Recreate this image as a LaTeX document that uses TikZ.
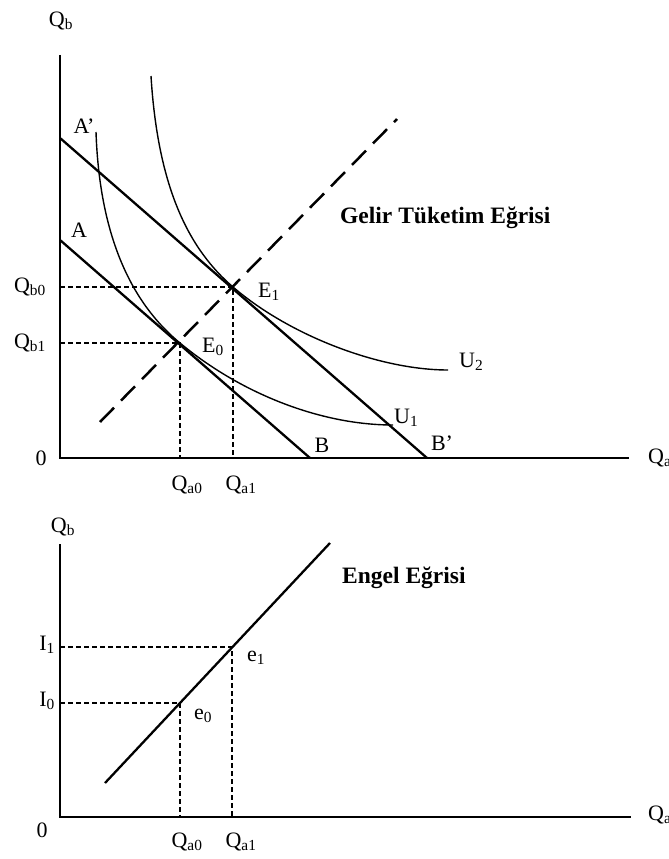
\documentclass[tikz,border=0pt]{standalone}
\usepackage{fontspec}
\setmainfont{Liberation Serif}
\usetikzlibrary{positioning}
\tikzset{
    axisline/.style={line width=2.8pt, line join=miter},
    budgetline/.style={line width=2.3pt},
    utilcurve/.style={line width=1.4pt},
    guideline/.style={line width=1.2pt, dash pattern=on 5pt off 3pt},
    pathline/.style={line width=2.5pt, dash pattern=on 20pt off 10pt},
    axlabel/.style={font=\fontsize{22}{24}\selectfont, inner sep=1pt},
    curvelabel/.style={font=\bfseries\fontsize{23.5}{26}\selectfont, inner sep=0pt}
}
\newcommand{\subl}[2]{#1\textsubscript{#2}}

\begin{document}
\begin{tikzpicture}[x=1pt, y=-1pt]
        \useasboundingbox (0,0) rectangle (669,859);

        % upper panel: budget lines and indifference curves
        \coordinate (o1) at (60,458);
        \coordinate (ytop1) at (60,55);
        \coordinate (xend1) at (629,458);
        \coordinate (a) at (60,240);
        \coordinate (b) at (310,458);
        \coordinate (ap) at (60,138);
        \coordinate (bp) at (427,458);
        \coordinate (e0) at (180,343);
        \coordinate (e1) at (233,287);
        \coordinate (gte0) at (100,422);
        \coordinate (gte1) at (397,119);
        \coordinate (u1s) at (96,132);
        \coordinate (u1e) at (393,425);
        \coordinate (u2s) at (151,76);
        \coordinate (u2e) at (448,370);

        \draw[axisline] (ytop1) -- (o1) -- (xend1);
        \draw[guideline] (o1 |- e1) -- (e1) -- (e1 |- o1);
        \draw[guideline] (o1 |- e0) -- (e0) -- (e0 |- o1);
        \draw[budgetline] (a) -- (b);
        \draw[budgetline] (ap) -- (bp);
        \draw[pathline] (gte0) -- (gte1);
        \draw[utilcurve] (u1s) .. controls (100,250) and (140,310) .. (e0)
            .. controls (240,393) and (320,425) .. (u1e);
        \draw[utilcurve] (u2s) .. controls (158,190) and (190,250) .. (e1)
            .. controls (290,336) and (380,370) .. (u2e);

        \node[axlabel] (qb) at (61,21) {\subl{Q}{b}};
        \node[axlabel, anchor=east] (qb0) at (47,287) {\subl{Q}{b0}};
        \node[axlabel, anchor=east] (qb1) at (47,343) {\subl{Q}{b1}};
        \node[axlabel] (zero1) at (41,458) {0};
        \node[axlabel, anchor=west] (qa) at (647,458) {\subl{Q}{a}};
        \node[axlabel] (qa0) at (187,485) {\subl{Q}{a0}};
        \node[axlabel] (qa1) at (241,485) {\subl{Q}{a1}};
        \node[axlabel] (la) at (79,230) {A};
        \node[axlabel] (lap) at (84,126) {A'};
        \node[axlabel] (lb) at (322,445) {B};
        \node[axlabel] (lbp) at (442,443) {B'};
        \node[axlabel, anchor=west] (le0) at (201,347) {\subl{E}{0}};
        \node[axlabel, anchor=west] (le1) at (257,292) {\subl{E}{1}};
        \node[axlabel, anchor=west] (lu1) at (393,418) {\subl{U}{1}};
        \node[axlabel, anchor=west] (lu2) at (458,362) {\subl{U}{2}};
        \node[curvelabel, anchor=west] (gte) at (340,218) {Gelir Tüketim Eğrisi};

        % lower panel: Engel curve
        \coordinate (o2) at (60,817);
        \coordinate (ytop2) at (60,544);
        \coordinate (xend2) at (631,817);
        \coordinate (eng0) at (105,783);
        \coordinate (eng1) at (330,543);
        \coordinate (f0) at (180,703);
        \coordinate (f1) at (232,647);

        \draw[axisline] (ytop2) -- (o2) -- (xend2);
        \draw[guideline] (o2 |- f1) -- (f1) -- (f1 |- o2);
        \draw[guideline] (o2 |- f0) -- (f0) -- (f0 |- o2);
        \draw[budgetline] (eng0) -- (eng1);

        \node[axlabel] (qbb) at (63,527) {\subl{Q}{b}};
        \node[axlabel, anchor=east] (i1) at (56,645) {\subl{I}{1}};
        \node[axlabel, anchor=east] (i0) at (56,701) {\subl{I}{0}};
        \node[axlabel] (zero2) at (42,830) {0};
        \node[axlabel, anchor=west] (qab) at (647,815) {\subl{Q}{a}};
        \node[axlabel] (qa0b) at (187,842) {\subl{Q}{a0}};
        \node[axlabel] (qa1b) at (241,842) {\subl{Q}{a1}};
        \node[axlabel] (le0b) at (203,716) {\subl{e}{0}};
        \node[axlabel] (le1b) at (256,658) {\subl{e}{1}};
        \node[curvelabel, anchor=west] (engel) at (342,578) {Engel Eğrisi};
\end{tikzpicture}
\end{document}
